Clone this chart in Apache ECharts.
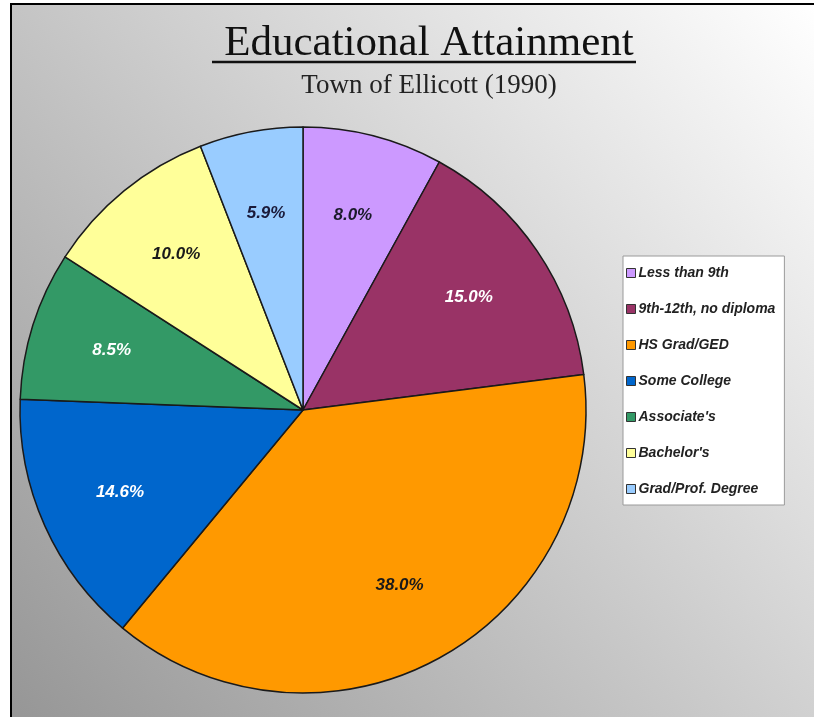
<!DOCTYPE html>
<html>
<head>
<meta charset="utf-8">
<script src="https://cdn.jsdelivr.net/npm/echarts@6/dist/echarts.min.js"></script>
<style>
html,body{margin:0;padding:0;background:#fff;}
#c{width:814px;height:717px;}
</style>
</head>
<body>
<div id="c"></div>
<script>
var categories = ["Less than 9th", "9th-12th, no diploma", "HS Grad/GED", "Some College", "Associate's", "Bachelor's", "Grad/Prof. Degree"];
var percents = [8.0, 15.0, 38.0, 14.6, 8.5, 10.0, 5.9];
var sliceColors = ["#CC99FF", "#993366", "#FF9900", "#0066CC", "#339966", "#FFFF99", "#99CCFF"];
var labelColors = ["#1a1a2a", "#ffffff", "#1a1a1a", "#ffffff", "#ffffff", "#1a1a1a", "#1a1a3a"];

var chart = echarts.init(document.getElementById('c'), null, {renderer: 'canvas'});

var pieData = categories.map(function (n, i) {
  return {name: n, value: percents[i], itemStyle: {color: sliceColors[i]}};
});
var labelData = categories.map(function (n, i) {
  return {name: n, value: percents[i], label: {color: labelColors[i]}};
});

var center = [303, 410];
var R = 283;

chart.setOption({
  backgroundColor: '#ffffff',
  animation: false,
  graphic: [
    {
      type: 'rect', z: -10, silent: true,
      shape: {x: 10, y: 3, width: 804, height: 714},
      style: {
        fill: new echarts.graphic.LinearGradient(1, 0, 0, 1, [
          {offset: 0, color: '#ffffff'},
          {offset: 1, color: '#969696'}
        ])
      }
    },
    {type: 'line', z: 10, silent: true, shape: {x1: 10, y1: 4, x2: 814, y2: 4}, style: {stroke: '#000', lineWidth: 2}},
    {type: 'line', z: 10, silent: true, shape: {x1: 11, y1: 3, x2: 11, y2: 717}, style: {stroke: '#000', lineWidth: 2}},
    {type: 'line', z: 10, silent: true, shape: {x1: 212, y1: 62, x2: 636, y2: 62}, style: {stroke: '#111', lineWidth: 2.5}}
  ],
  title: {
    text: 'Educational Attainment',
    subtext: 'Town of Ellicott (1990)',
    left: 424, top: 17, textAlign: 'center',
    itemGap: 7,
    textStyle: {fontFamily: 'Liberation Serif', fontSize: 43, fontWeight: 'normal', color: '#111'},
    subtextStyle: {fontFamily: 'Liberation Serif', fontSize: 27, color: '#222'}
  },
  legend: {
    orient: 'vertical',
    left: 623, top: 256,
    data: categories,
    backgroundColor: '#ffffff',
    borderColor: '#9a9a9a', borderWidth: 1,
    padding: [10, 9, 9, 3],
    itemWidth: 9, itemHeight: 9, itemGap: 22,
    icon: 'rect',
    itemStyle: {borderColor: '#333', borderWidth: 1},
    textStyle: {fontFamily: 'Liberation Sans', fontSize: 14, lineHeight: 14, fontStyle: 'italic', fontWeight: 'bold', color: '#222', padding: [0, 0, 0, -2]},
    selectedMode: false
  },
  series: [
    {
      type: 'pie',
      center: center,
      radius: [0, R],
      startAngle: 90,
      clockwise: true,
      data: pieData,
      itemStyle: {borderColor: '#1a1a1a', borderWidth: 1.5},
      label: {show: false},
      labelLine: {show: false},
      emphasis: {disabled: true}
    },
    {
      type: 'pie',
      center: center,
      radius: [110, 285],
      startAngle: 90,
      clockwise: true,
      silent: true,
      data: labelData,
      itemStyle: {color: 'rgba(0,0,0,0)', borderWidth: 0},
      label: {show: true, position: 'inside', formatter: function (p) { return p.value.toFixed(1) + '%'; },
        fontFamily: 'Liberation Sans', fontSize: 17, fontWeight: 'bold', fontStyle: 'italic'},
      labelLine: {show: false},
      emphasis: {disabled: true}
    }
  ]
});
</script>
</body>
</html>
